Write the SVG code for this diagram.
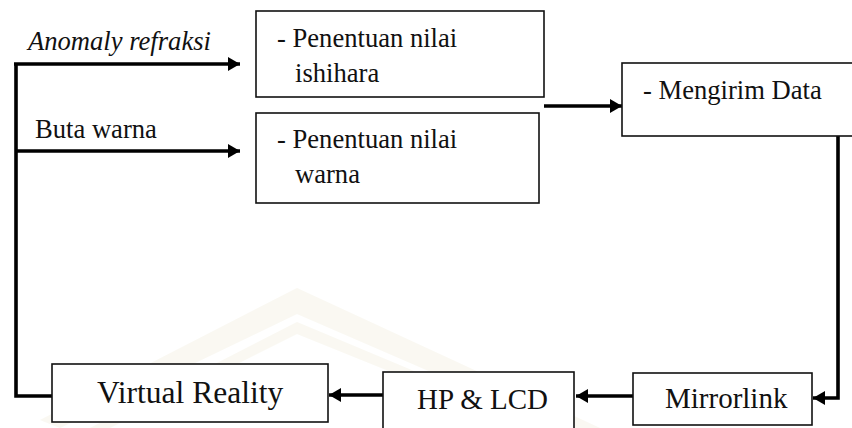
<svg xmlns="http://www.w3.org/2000/svg" width="852" height="428" viewBox="0 0 852 428">
  <style>
    .box { fill: #ffffff; stroke: #111111; stroke-width: 1.6; }
    .wire { fill: none; stroke: #000000; stroke-width: 3.6; stroke-linejoin: miter; }
    .t { font-family: "Liberation Serif", "Times New Roman", serif; fill: #111111; }
    .s26 { font-size: 26.6px; }
    .s29 { font-size: 29px; }
    .s31 { font-size: 31.5px; }
    .it { font-style: italic; }
    .mark { fill: #f6f3e6; }
  </style>
  <defs>
    <marker id="arrow" viewBox="0 0 12 14" refX="12" refY="7" markerWidth="12" markerHeight="14" markerUnits="userSpaceOnUse" orient="auto">
      <path d="M0,0 L12,7 L0,14 Z" fill="#000000"/>
    </marker>
  </defs>

  <rect x="0" y="0" width="852" height="428" fill="#ffffff"/>

  <!-- faint background emblem -->
  <g id="emblem" opacity="0.5">
    <polygon class="mark" points="297,288 40,420 60,428 297,314 560,428 600,428"/>
    <polygon class="mark" points="297,322 90,428 110,428 297,334 530,428 550,428"/>
  </g>

  <!-- connectors -->
  <g id="connectors">
    <polyline class="wire" points="16,64 16,396 52,396"/>
    <line class="wire" x1="14" y1="64" x2="240" y2="64" marker-end="url(#arrow)"/>
    <line class="wire" x1="16" y1="151" x2="240" y2="151" marker-end="url(#arrow)"/>
    <line class="wire" x1="544" y1="106" x2="622" y2="106" marker-end="url(#arrow)"/>
    <polyline class="wire" points="838,136 838,398 813,398" marker-end="url(#arrow)"/>
    <line class="wire" x1="633" y1="396" x2="576" y2="396" marker-end="url(#arrow)"/>
    <line class="wire" x1="383" y1="395" x2="329" y2="395" marker-end="url(#arrow)"/>
  </g>

  <!-- edge labels -->
  <g id="labels">
    <text class="t s26 it" x="28" y="50">Anomaly refraksi</text>
    <text class="t s26" x="35" y="138">Buta warna</text>
  </g>

  <g id="ishihara">
    <rect class="box" x="256" y="11" width="288" height="86"/>
    <text class="t s26" x="277" y="47">- Penentuan nilai</text>
    <text class="t s26" x="295" y="82">ishihara</text>
  </g>

  <g id="warna">
    <rect class="box" x="256" y="113" width="283" height="90"/>
    <text class="t s26" x="277" y="148">- Penentuan nilai</text>
    <text class="t s26" x="295" y="183">warna</text>
  </g>

  <g id="kirim">
    <rect class="box" x="622" y="63" width="240" height="73"/>
    <text class="t s26" x="643" y="99">- Mengirim Data</text>
  </g>

  <g id="mirrorlink">
    <rect class="box" x="633" y="373" width="179" height="52"/>
    <text class="t s29" x="665" y="408">Mirrorlink</text>
  </g>

  <g id="hp-lcd">
    <rect class="box" x="383" y="372" width="191" height="70"/>
    <text class="t s29" x="417" y="409">HP &amp; LCD</text>
  </g>

  <g id="vr">
    <rect class="box" x="52" y="364" width="276" height="58"/>
    <text class="t s31" x="97" y="403">Virtual Reality</text>
  </g>
</svg>
